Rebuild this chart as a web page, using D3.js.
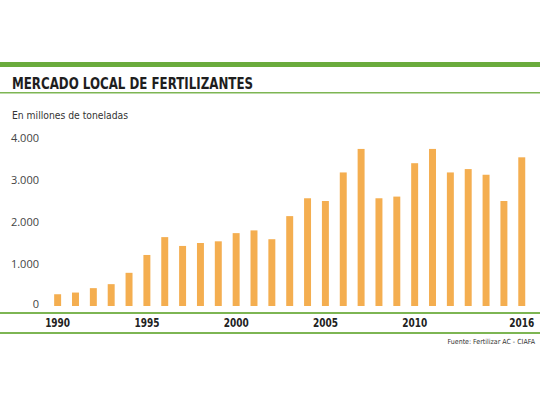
<!DOCTYPE html>
<html>
<head>
<meta charset="utf-8">
<script src="https://cdn.jsdelivr.net/npm/d3@7"></script>
<style>
  body { margin: 0; background: #fff; }
  svg { display: block; }
</style>
</head>
<body>
<div id="chart"></div>
<script>
// Datos del gráfico (miles de toneladas)
const years = d3.range(1990, 2017);
const values = [280, 320, 425, 520, 790, 1215, 1640, 1430, 1500, 1540, 1735, 1800, 1590,
                2140, 2565, 2500, 3180, 3740, 2565, 2605, 3400, 3740, 3180, 3260, 3125, 2500, 3540];
const yTicks = [0, 1000, 2000, 3000, 4000];
const yearLabels = [1990, 1995, 2000, 2005, 2010, 2016];

const width = 540, height = 405;
const green = "#6aab3c", barColor = "#f4ae50";
const condensed = "DejaVu Sans Condensed, DejaVu Sans";

const svg = d3.select("#chart").append("svg")
    .attr("width", width)
    .attr("height", height);

// Franja verde superior y título
svg.append("rect").attr("x", 0).attr("y", 62).attr("width", width).attr("height", 5).attr("fill", green);
svg.append("text")
    .attr("x", 12).attr("y", 89)
    .attr("font-family", condensed)
    .attr("font-weight", "bold")
    .attr("font-size", 16)
    .attr("textLength", 241)
    .attr("lengthAdjust", "spacingAndGlyphs")
    .attr("fill", "#1e1e1e")
    .text("MERCADO LOCAL DE FERTILIZANTES");
svg.append("rect").attr("x", 0).attr("y", 92).attr("width", width).attr("height", 1.5).attr("fill", "#7db553");

svg.append("text")
    .attr("x", 12).attr("y", 119)
    .attr("font-family", condensed)
    .attr("font-size", 11)
    .attr("textLength", 116)
    .attr("lengthAdjust", "spacingAndGlyphs")
    .attr("fill", "#333")
    .text("En millones de toneladas");

// Escalas
const x = d3.scaleBand()
    .domain(years)
    .range([48.8, 530.6])
    .paddingInner(0.61)
    .paddingOuter(0.3);

const y = d3.scaleLinear()
    .domain([0, 4000])
    .range([306, 138]);

const fmt = d => d3.format(",")(d).replace(/,/g, ".");

// Etiquetas eje Y
svg.append("g").selectAll("text")
    .data(yTicks).enter().append("text")
    .attr("x", 39)
    .attr("y", d => y(d) + (d === 0 ? -2 : 0))
    .attr("dy", "0.35em")
    .attr("text-anchor", "end")
    .attr("font-family", "Open Sans, DejaVu Sans")
    .attr("font-size", 11)
    .attr("fill", "#444")
    .text(fmt);

// Barras
svg.append("g").selectAll("rect")
    .data(values).enter().append("rect")
    .attr("x", (d, i) => x(years[i]))
    .attr("y", d => y(d))
    .attr("width", x.bandwidth())
    .attr("height", d => y(0) - y(d))
    .attr("fill", barColor);

// Líneas verdes del eje X
svg.append("rect").attr("x", 0).attr("y", 312).attr("width", width).attr("height", 2).attr("fill", "#7db553");
svg.append("rect").attr("x", 0).attr("y", 332).attr("width", width).attr("height", 2).attr("fill", "#7db553");

// Etiquetas de años
svg.append("g").selectAll("text")
    .data(yearLabels).enter().append("text")
    .attr("x", d => x(d) + x.bandwidth() / 2)
    .attr("y", 323)
    .attr("dy", "0.35em")
    .attr("text-anchor", "middle")
    .attr("font-family", condensed)
    .attr("font-weight", "bold")
    .attr("font-size", 12.5)
    .attr("textLength", 25)
    .attr("lengthAdjust", "spacingAndGlyphs")
    .attr("fill", "#222")
    .text(d => d);

// Fuente
svg.append("text")
    .attr("x", 535).attr("y", 344)
    .attr("text-anchor", "end")
    .attr("font-family", condensed)
    .attr("font-size", 7)
    .attr("fill", "#333")
    .text("Fuente: Fertilizar AC - CIAFA");
</script>
</body>
</html>
